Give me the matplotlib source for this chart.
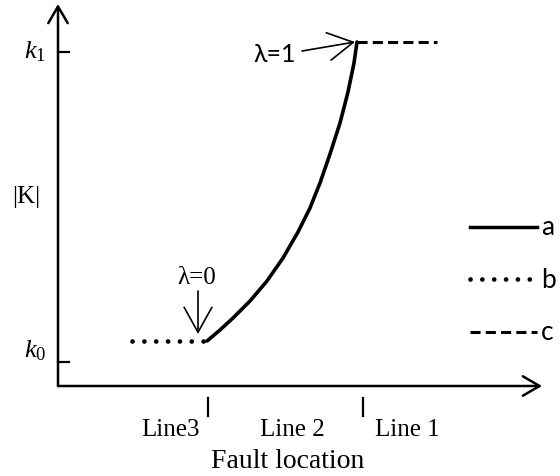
import numpy as np
import matplotlib.pyplot as plt

plt.rcParams['mathtext.fontset'] = 'custom'
plt.rcParams['mathtext.rm'] = 'Liberation Serif'
plt.rcParams['mathtext.it'] = 'Liberation Serif:italic'

SERIF = ['Liberation Serif', 'DejaVu Serif']
SANS = ['Lato', 'DejaVu Sans']

# curve a: |K| rising from k0 (lambda=0) to k1 (lambda=1) along line 2
curve_x = [149, 162, 175, 192, 209, 225, 240, 252, 262, 272, 282, 290, 296, 299]
curve_y = [45, 56, 68, 85, 105, 128, 154, 178, 203, 232, 263, 294, 323, 344]

# b: flat at k0 on line 3, c: flat at k1 on line 1
flat_b_x = [74, 149]
flat_b_y = [45, 45]
flat_c_x = [299, 379]
flat_c_y = [344, 344]

# axis marks
ytick_pos = [24, 334]
ytick_labels = [r'$k_0$', r'$k_1$']
xtick_pos = [150, 305]
section_labels = ['Line3', 'Line 2', 'Line 1']
section_centers = [112, 234, 349]

legend_labels = ['a', 'b', 'c']

dotted = (0, (0.01, 2.5))
dashed = (0, (3.3, 1.7))

fig = plt.figure(figsize=(5.6, 4.77), dpi=100)
ax = fig.add_axes([58 / 560, 90 / 477, 484 / 560, 382 / 477])
ax.set_xlim(0, 484)
ax.set_ylim(0, 382)
ax.axis('off')

# axes with open arrow heads
axis_arrow = dict(arrowstyle='->,head_length=0.6,head_width=0.35', lw=1.8,
                  color='black', shrinkA=0, shrinkB=0, mutation_scale=20)
ax.annotate('', xy=(1, 0), xytext=(0, 0), xycoords='axes fraction',
            arrowprops=axis_arrow, annotation_clip=False)
ax.annotate('', xy=(0, 1), xytext=(0, 0), xycoords='axes fraction',
            arrowprops=axis_arrow, annotation_clip=False)

# the three curves
ax.plot(curve_x, curve_y, color='black', lw=2.6, solid_capstyle='round',
        solid_joinstyle='round', clip_on=False)
ax.plot(flat_b_x, flat_b_y, color='black', lw=3.4, linestyle=dotted,
        dash_capstyle='round', clip_on=False)
ax.plot(flat_c_x, flat_c_y, color='black', lw=2.2, linestyle=dashed, clip_on=False)

# y ticks and labels
for yv, lab, dy in zip(ytick_pos, ytick_labels, [13, 2]):
    ax.plot([0, 11], [yv, yv], color='black', lw=1.6, clip_on=False)
    ax.text(-23, yv + dy, lab, fontsize=19, ha='center', va='center')
ax.text(-32, 190, '|K|', family=SERIF, fontsize=18, ha='center', va='center')

# x section ticks below the axis
for xv in xtick_pos:
    ax.plot([xv, xv], [-12, -30], color='black', lw=1.6, clip_on=False)
for xc, lab in zip(section_centers, section_labels):
    ax.text(xc, -43, lab, family=SERIF, fontsize=18, ha='center', va='center')
ax.text(230, -75, 'Fault location', family=SERIF, fontsize=20, ha='center', va='center')

# lambda annotations
thin_arrow = dict(arrowstyle='->,head_length=0.9,head_width=0.5', lw=1.2,
                  color='black', shrinkA=0, shrinkB=0, mutation_scale=20)
ax.text(139, 109, 'λ=0', family=SERIF, fontsize=18, ha='center', va='center')
ax.annotate('', xy=(curve_x[0] - 9, curve_y[0] + 7), xytext=(curve_x[0] - 9, 95),
            arrowprops=thin_arrow)
ax.text(217, 332, 'λ=1', family=SANS, fontsize=18, ha='center', va='center')
ax.annotate('', xy=(curve_x[-1] - 2, curve_y[-1]), xytext=(244, 335),
            arrowprops=thin_arrow)

# legend drawn at the right
legend_styles = [dict(lw=2.5, linestyle='-'),
                 dict(lw=3.4, linestyle=dotted, dash_capstyle='round'),
                 dict(lw=2.2, linestyle=dashed)]
for lab, style, yy in zip(legend_labels, legend_styles, [159, 107, 54]):
    ax.plot([412, 479], [yy, yy], color='black', clip_on=False, **style)
    ax.text(483, yy, lab, family=SANS, fontsize=19, ha='left', va='center')

fig.savefig('out.png', dpi=100)
